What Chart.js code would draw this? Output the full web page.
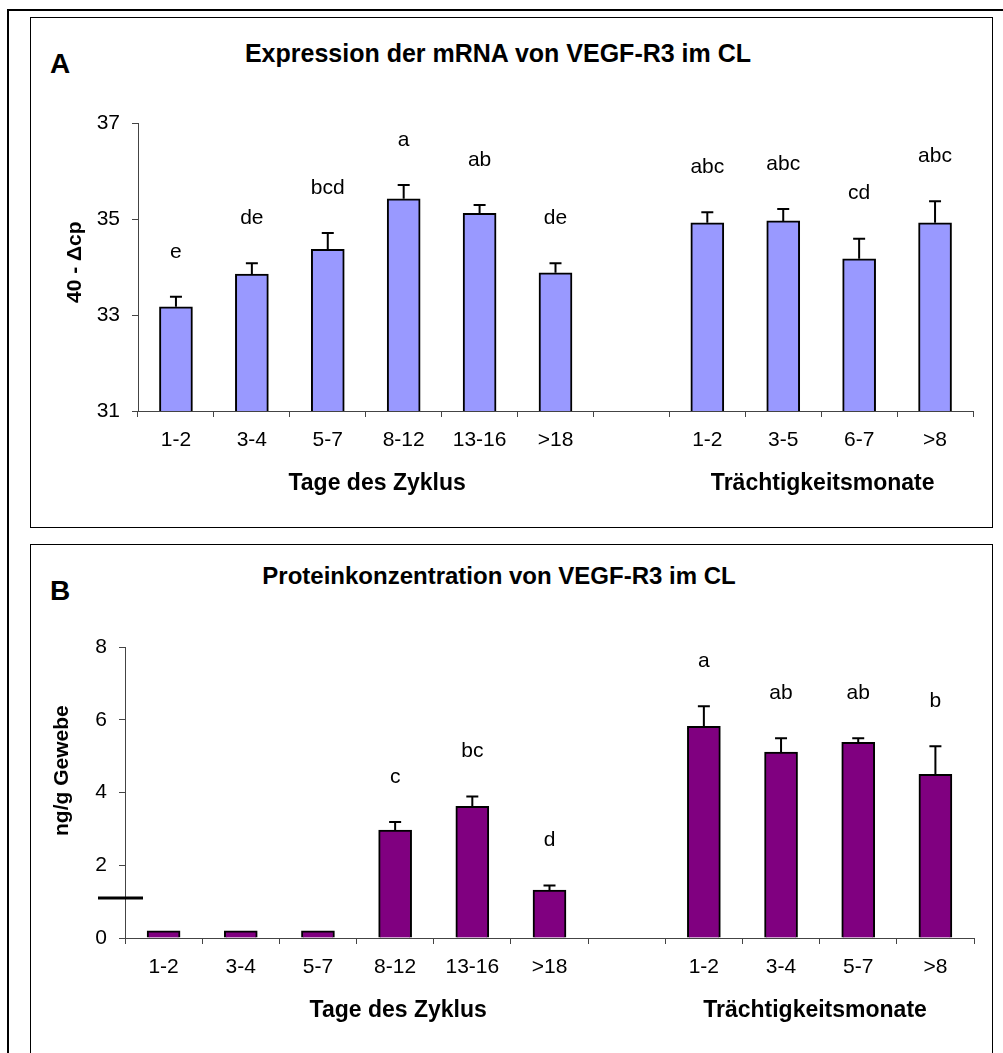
<!DOCTYPE html>
<html>
<head>
<meta charset="utf-8">
<script src="https://cdn.jsdelivr.net/npm/chart.js@4/dist/chart.umd.min.js"></script>
<style>
  html, body { margin: 0; padding: 0; background: #fff; overflow: hidden; width: 1003px; height: 1053px; }
  body { position: relative; font-family: 'Liberation Sans', Arial, sans-serif; color: #000; }
  .frame { position: absolute; border: 2px solid #000; box-sizing: border-box; }
  .txt { position: absolute; white-space: nowrap; transform: translate(-50%, -50%); font-weight: bold; }
  canvas { position: absolute; left: 0; }
</style>
</head>
<body>
<div class="frame" style="left:7px; top:9px; width:1100px; height:1100px;"></div>
<div class="frame" style="left:30px; top:17px; width:963px; height:511px; border-width:1.5px;"></div>
<div class="frame" style="left:30px; top:544px; width:963px; height:600px; border-width:1.5px;"></div>

<div class="txt" style="left:60px; top:64px; font-size:28px;">A</div>
<div class="txt" style="left:498px; top:53px; font-size:25px;">Expression der mRNA von VEGF-R3 im CL</div>
<div class="txt" style="left:60px; top:591px; font-size:28px;">B</div>
<div class="txt" style="left:499px; top:576px; font-size:24px;">Proteinkonzentration von VEGF-R3 im CL</div>

<canvas id="chartA" width="1003" height="530" style="top:0;"></canvas>
<canvas id="chartB" width="1003" height="523" style="top:530px;"></canvas>

<script>
// categories
const cycleDays = ['1-2', '3-4', '5-7', '8-12', '13-16', '>18'];
const pregMonthsA = ['1-2', '3-5', '6-7', '>8'];
const pregMonthsB = ['1-2', '3-4', '5-7', '>8'];

// mRNA (40 - delta cp), mean and SEM
const mrnaCycle = [33.17, 33.85, 34.37, 35.42, 35.12, 33.88];
const mrnaCycleErr = [0.21, 0.23, 0.34, 0.29, 0.17, 0.2];
const mrnaPreg = [34.92, 34.96, 34.17, 34.92];
const mrnaPregErr = [0.22, 0.25, 0.42, 0.45];
const mrnaLetters = ['e', 'de', 'bcd', 'a', 'ab', 'de', 'abc', 'abc', 'cd', 'abc'];

// protein ng/g tissue, mean and SEM
const proteinCycle = [0.2, 0.2, 0.2, 2.97, 3.62, 1.32];
const proteinCycleErr = [0, 0, 0, 0.22, 0.27, 0.12];
const proteinPreg = [5.82, 5.11, 5.38, 4.5];
const proteinPregErr = [0.55, 0.38, 0.11, 0.77];
const proteinLetters = ['', '', '', 'c', 'bc', 'd', 'a', 'ab', 'ab', 'b'];
const detectionLimit = 1.1;

const mrnaTicks = [31, 33, 35, 37];
const proteinTicks = [0, 2, 4, 6, 8];

const FONT = "'Liberation Sans', Arial, sans-serif";

// empty slot between the two groups
function join(a, b) { return [...a, null, ...b]; }

const annotate = {
  id: 'annotate',
  afterDatasetsDraw(chart, args, opts) {
    const ctx = chart.ctx;
    const ys = chart.scales.y;
    const xs = chart.scales.x;
    const area = chart.chartArea;
    const vals = chart.data.datasets[0].data;
    const meta = chart.getDatasetMeta(0);
    ctx.save();
    ctx.strokeStyle = '#000';
    ctx.lineWidth = 2;
    ctx.fillStyle = '#000';
    ctx.textAlign = 'center';
    ctx.textBaseline = 'middle';
    ctx.font = '21px ' + FONT;
    meta.data.forEach((bar, i) => {
      const v = vals[i];
      if (v == null) return;
      const err = opts.errors[i] || 0;
      const top = ys.getPixelForValue(v + err);
      if (err > 0) {
        ctx.beginPath();
        ctx.moveTo(bar.x, bar.y);
        ctx.lineTo(bar.x, top);
        ctx.moveTo(bar.x - 6, top);
        ctx.lineTo(bar.x + 6, top);
        ctx.stroke();
      }
      if (opts.letters[i]) ctx.fillText(opts.letters[i], bar.x, top - 45);
    });

    // detection limit marker
    if (opts.limit != null) {
      const ly = ys.getPixelForValue(opts.limit);
      ctx.lineWidth = 3;
      ctx.beginPath();
      ctx.moveTo(area.left - 27, ly);
      ctx.lineTo(area.left + 18, ly);
      ctx.stroke();
    }

    // group captions under the x axis
    ctx.font = 'bold 23px ' + FONT;
    opts.groups.forEach(g => {
      ctx.fillText(g.text, xs.getPixelForValue(g.at), area.bottom + 73);
    });

    // y axis caption
    ctx.font = 'bold 21px ' + FONT;
    ctx.translate(area.left - 63, ys.getPixelForValue(opts.yTitleAt));
    ctx.rotate(-Math.PI / 2);
    ctx.fillText(opts.yTitle, 0, 0);
    ctx.restore();
  }
};

function makeChart(id, cfg) {
  const axisGrid = { drawOnChartArea: false, drawTicks: true, tickLength: 6, color: '#444', lineWidth: 1 };
  const axisBorder = { display: true, color: '#444', width: 1 };
  const tickFont = { family: FONT, size: 21 };
  return new Chart(document.getElementById(id), {
    type: 'bar',
    data: {
      labels: cfg.labels,
      datasets: [{
        data: cfg.values,
        backgroundColor: cfg.color,
        borderColor: '#000',
        borderWidth: 2,
        borderSkipped: 'start',
        barThickness: 33
      }]
    },
    options: {
      responsive: false,
      devicePixelRatio: 1,
      animation: false,
      layout: { padding: cfg.padding },
      plugins: {
        legend: { display: false },
        tooltip: { enabled: false },
        annotate: {
          errors: cfg.errors,
          letters: cfg.letters,
          limit: cfg.limit,
          groups: cfg.groups,
          yTitle: cfg.yTitle,
          yTitleAt: cfg.yTitleAt
        }
      },
      scales: {
        x: {
          offset: true,
          grid: Object.assign({ offset: true }, axisGrid),
          border: axisBorder,
          ticks: { color: '#000', font: tickFont, padding: 11, maxRotation: 0, autoSkip: false },
          afterFit(s) { s.height = 60; }
        },
        y: {
          min: cfg.ticks[0],
          max: cfg.ticks[cfg.ticks.length - 1],
          afterBuildTicks(s) { s.ticks = cfg.ticks.map(v => ({ value: v })); },
          grid: axisGrid,
          border: axisBorder,
          ticks: { color: '#000', font: tickFont, padding: 12 },
          afterFit(s) { s.width = 60; }
        }
      }
    },
    plugins: [annotate]
  });
}

makeChart('chartA', {
  labels: join(cycleDays, pregMonthsA).map(l => l || ''),
  values: join(mrnaCycle, mrnaPreg),
  errors: join(mrnaCycleErr, mrnaPregErr),
  letters: join(mrnaLetters.slice(0, 6), mrnaLetters.slice(6)),
  color: '#9999FF',
  ticks: mrnaTicks,
  padding: { left: 78, right: 30, top: 123, bottom: 59 },
  groups: [{ text: 'Tage des Zyklus', at: 2.65 }, { text: 'Trächtigkeitsmonate', at: 8.52 }],
  yTitle: '40 - \u0394cp',
  yTitleAt: 34.1
});

makeChart('chartB', {
  labels: join(cycleDays, pregMonthsB).map(l => l || ''),
  values: join(proteinCycle, proteinPreg),
  errors: join(proteinCycleErr, proteinPregErr),
  letters: join(proteinLetters.slice(0, 6), proteinLetters.slice(6)),
  color: '#800080',
  ticks: proteinTicks,
  limit: detectionLimit,
  padding: { left: 65, right: 29, top: 117, bottom: 55 },
  groups: [{ text: 'Tage des Zyklus', at: 3.04 }, { text: 'Trächtigkeitsmonate', at: 8.44 }],
  yTitle: 'ng/g Gewebe',
  yTitleAt: 4.6
});
</script>
</body>
</html>
